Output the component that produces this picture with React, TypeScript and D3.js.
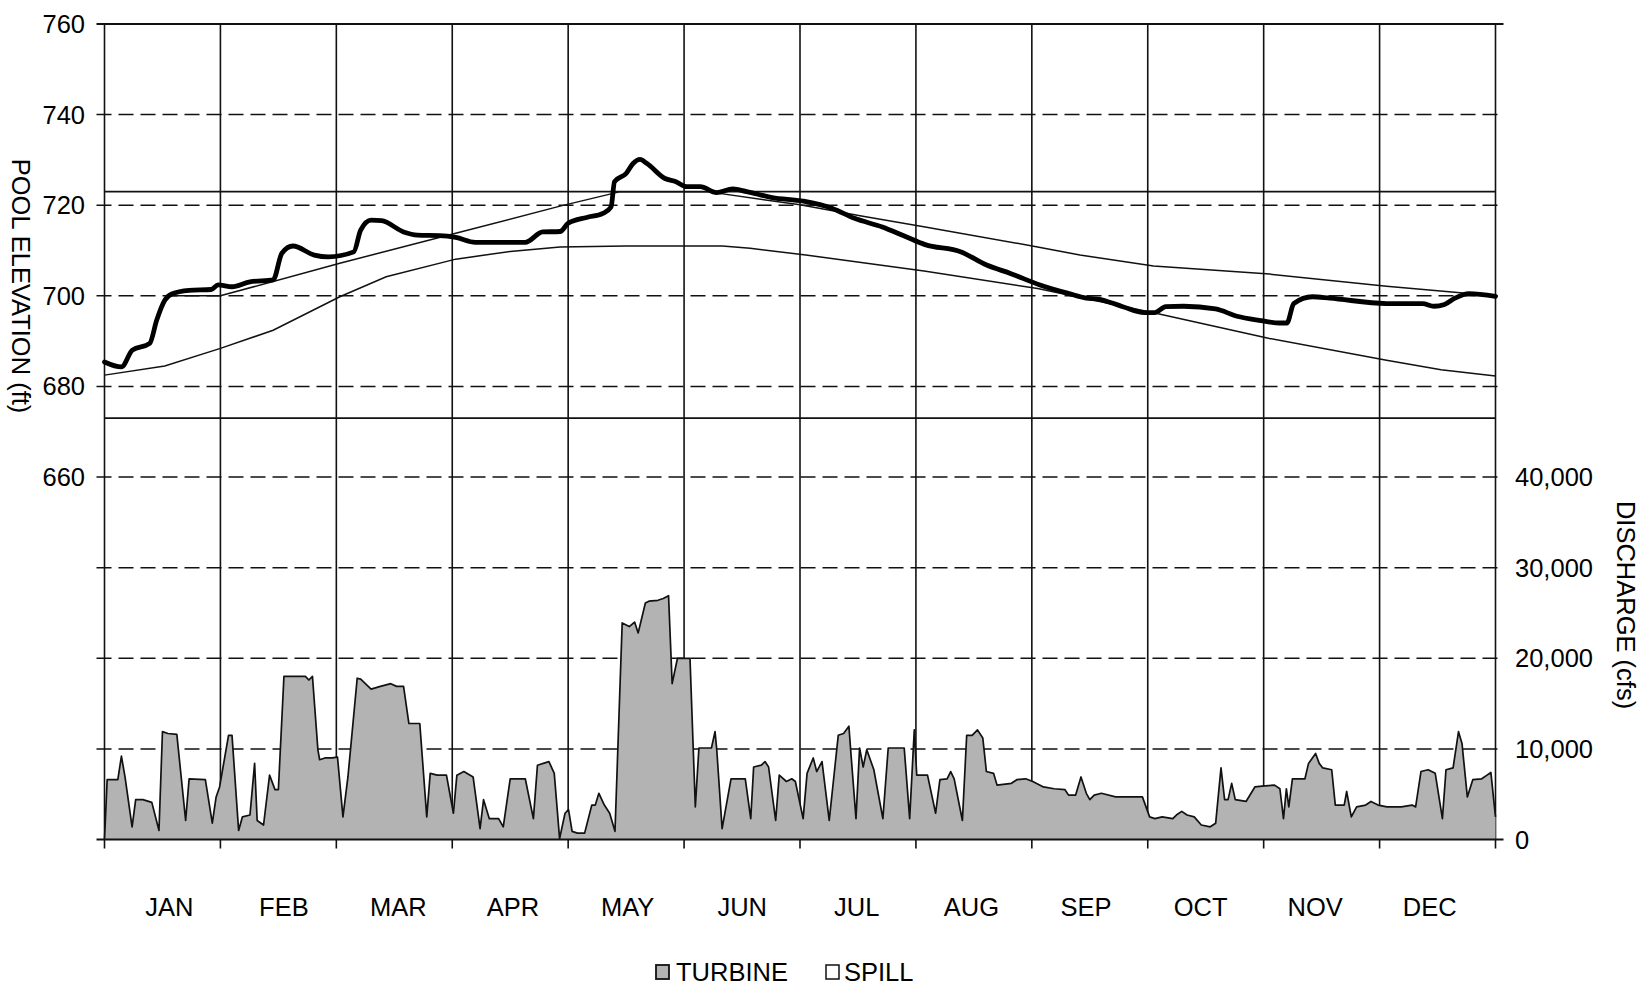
import React from "react";
import * as d3 from "d3";

// ---------- DATA ----------
const MONTHS = ["JAN", "FEB", "MAR", "APR", "MAY", "JUN", "JUL", "AUG", "SEP", "OCT", "NOV", "DEC"];
const ELEV_TICKS = [660, 680, 700, 720, 740, 760];
const FLOW_TICKS = [0, 10000, 20000, 30000, 40000];
const DASHED_ELEVS = [600, 620, 640, 660, 680, 700, 720, 740];
const LIMIT_ELEVS = [723, 673];

// [month position (0 = Jan 1, 12 = Dec 31), pool elevation ft]
const POOL: [number, number][] = [
  [0, 685.4], [0.146, 684.3], [0.24, 688.0], [0.39, 689.5], [0.45, 694.6], [0.52, 699.0], [0.58, 700.4],
  [0.73, 701.2], [0.92, 701.4], [0.98, 702.4], [1.1, 702.0], [1.255, 703.1], [1.455, 703.5], [1.53, 709.4],
  [1.625, 711.0], [1.81, 709.0], [1.93, 708.6], [2.15, 709.7], [2.21, 714.5], [2.3, 716.7], [2.39, 716.6],
  [2.58, 714.1], [2.7, 713.4], [2.89, 713.3], [3.03, 712.9], [3.2, 711.8], [3.63, 711.8], [3.78, 714.1],
  [3.93, 714.2], [4.0, 716.0], [4.16, 717.3], [4.3, 718.2], [4.37, 719.6], [4.4, 725.2], [4.5, 727.0],
  [4.56, 729.2], [4.62, 730.1], [4.68, 729.2], [4.835, 725.9], [4.93, 725.2], [5.02, 724.1], [5.14, 724.1],
  [5.28, 722.8], [5.42, 723.6], [5.54, 723.0], [5.76, 721.7], [6.03, 720.9], [6.28, 719.3], [6.47, 717.1],
  [6.71, 715.2], [6.9, 713.2], [7.08, 711.3], [7.39, 709.7], [7.61, 706.8], [7.82, 704.9], [8.07, 702.4],
  [8.32, 700.5], [8.47, 699.5], [8.57, 699.3], [8.785, 697.6], [8.97, 696.3], [9.06, 696.3], [9.155, 697.6],
  [9.31, 697.7], [9.585, 697.1], [9.77, 695.5], [9.96, 694.6], [10.14, 694.0], [10.2, 694.0], [10.26, 698.3],
  [10.42, 699.8], [10.57, 699.5], [11.06, 698.3], [11.37, 698.3], [11.47, 697.7], [11.56, 698.1],
  [11.65, 699.5], [11.77, 700.5], [12, 699.9],
];

const UPPER_GUIDE: [number, number][] = [
  [0.55, 700], [1.0, 700], [2.03, 707.2], [3.03, 713.8], [3.93, 719.8], [4.45, 723], [5.2, 723],
  [6.0, 720.1], [6.53, 717.6], [7.08, 715.2], [8.05, 710.8], [8.415, 709.0], [9.05, 706.6],
  [10.05, 704.8], [11.06, 702.1], [11.77, 700.5], [12, 700],
];

const LOWER_GUIDE: [number, number][] = [
  [0, 682.5], [0.52, 684.5], [1.0, 688.4], [1.455, 692.4], [2.03, 699.8], [2.43, 704.2], [3.03, 708.1],
  [3.5, 709.8], [3.93, 710.8], [4.5, 711], [5.33, 711], [5.57, 710.5], [6.05, 709], [7.07, 705.5],
  [8.05, 701.6], [9.06, 696.2], [10.05, 690.6], [11.06, 685.8], [11.53, 683.7], [12, 682.3],
];

// [month position, turbine discharge in thousand cfs]
const TURBINE_KCFS: [number, number][] = [
  [0, 0], [0.023, 6.6], [0.115, 6.6], [0.146, 9.2], [0.177, 6.9], [0.238, 1.4], [0.269, 4.4], [0.331, 4.4],
  [0.408, 4.1], [0.47, 1.0], [0.5, 11.9], [0.547, 11.7], [0.624, 11.6], [0.7, 2.1], [0.73, 6.7], [0.87, 6.6],
  [0.93, 1.8], [0.963, 4.7], [0.993, 5.8], [1.07, 11.5], [1.1, 11.5], [1.157, 1.0], [1.19, 2.5], [1.255, 2.7],
  [1.295, 8.4], [1.317, 2.1], [1.372, 1.6], [1.424, 7.1], [1.471, 5.5], [1.5, 5.5], [1.548, 18.0], [1.655, 18.0],
  [1.733, 18.0], [1.763, 17.6], [1.794, 18.0], [1.841, 9.9], [1.856, 8.8], [1.902, 9.0], [1.964, 9.0],
  [2.01, 9.1], [2.057, 2.5], [2.1, 6.9], [2.18, 17.8], [2.21, 17.7], [2.3, 16.6], [2.38, 16.9], [2.47, 17.2],
  [2.52, 16.9], [2.58, 16.9], [2.626, 12.8], [2.72, 12.8], [2.78, 2.5], [2.81, 7.3], [2.87, 7.1], [2.95, 7.1],
  [3.01, 2.9], [3.04, 7.1], [3.1, 7.5], [3.18, 6.9], [3.24, 1.2], [3.27, 4.4], [3.32, 2.3], [3.4, 2.3],
  [3.44, 1.4], [3.5, 6.7], [3.63, 6.7], [3.7, 2.3], [3.735, 8.2], [3.834, 8.6], [3.88, 7.3], [3.926, 0.1],
  [3.973, 2.9], [4.003, 3.3], [4.034, 0.9], [4.08, 0.7], [4.142, 0.7], [4.204, 3.8], [4.234, 3.8], [4.265, 5.1],
  [4.312, 3.8], [4.358, 2.9], [4.404, 0.9], [4.466, 23.9], [4.527, 23.5], [4.573, 24.0], [4.604, 22.8],
  [4.666, 26.1], [4.697, 26.3], [4.774, 26.4], [4.82, 26.6], [4.866, 26.9], [4.897, 17.2], [4.943, 20.0],
  [5.02, 20.0], [5.051, 20.0], [5.097, 3.6], [5.128, 10.1], [5.236, 10.1], [5.267, 11.9], [5.282, 9.9],
  [5.328, 1.2], [5.405, 6.7], [5.528, 6.7], [5.575, 2.3], [5.6, 8.0], [5.667, 8.2], [5.698, 8.6], [5.729, 8.0],
  [5.79, 2.1], [5.821, 7.1], [5.883, 6.4], [5.929, 6.7], [5.96, 6.4], [6.027, 2.3], [6.061, 7.3], [6.114, 9.0],
  [6.144, 7.5], [6.19, 8.6], [6.252, 2.1], [6.33, 11.5], [6.376, 11.7], [6.422, 12.5], [6.437, 9.9],
  [6.483, 2.3], [6.514, 10.1], [6.545, 8.0], [6.576, 9.9], [6.637, 7.7], [6.715, 2.3], [6.761, 10.1],
  [6.899, 10.1], [6.946, 2.3], [6.986, 12.1], [7.007, 7.1], [7.1, 7.1], [7.17, 2.9], [7.207, 6.6],
  [7.269, 6.7], [7.3, 7.5], [7.33, 6.7], [7.401, 2.1], [7.438, 11.5], [7.485, 11.5], [7.531, 12.1],
  [7.577, 11.2], [7.608, 7.5], [7.67, 7.3], [7.7, 6.0], [7.824, 6.2], [7.87, 6.6], [7.947, 6.7], [8.008, 6.4],
  [8.1, 5.8], [8.193, 5.6], [8.286, 5.5], [8.317, 4.9], [8.378, 4.9], [8.424, 6.9], [8.47, 5.1], [8.5, 4.4],
  [8.538, 4.9], [8.6, 5.1], [8.723, 4.7], [8.954, 4.7], [9.016, 2.5], [9.062, 2.3], [9.124, 2.5],
  [9.216, 2.3], [9.247, 2.7], [9.293, 3.1], [9.339, 2.7], [9.401, 2.5], [9.462, 1.6], [9.539, 1.4],
  [9.586, 1.8], [9.632, 7.9], [9.663, 4.4], [9.693, 4.4], [9.724, 6.2], [9.755, 4.4], [9.848, 4.2],
  [9.924, 5.8], [9.986, 5.9], [10.094, 6.0], [10.14, 5.6], [10.171, 2.3], [10.196, 5.6], [10.217, 3.6],
  [10.248, 6.7], [10.356, 6.7], [10.387, 8.4], [10.448, 9.5], [10.479, 8.4], [10.51, 7.9], [10.587, 7.7],
  [10.618, 3.8], [10.695, 3.8], [10.716, 5.3], [10.756, 2.5], [10.802, 3.6], [10.88, 3.8], [10.926, 4.2],
  [10.987, 3.8], [11.064, 3.6], [11.188, 3.6], [11.28, 3.8], [11.311, 3.6], [11.357, 7.5], [11.419, 7.7],
  [11.48, 7.3], [11.542, 2.3], [11.573, 7.7], [11.634, 7.9], [11.681, 11.9], [11.711, 10.6], [11.757, 4.7],
  [11.804, 6.6], [11.881, 6.7], [11.927, 7.1], [11.96, 7.4], [12, 2.5],
];

const LEGEND = [
  { label: "TURBINE", fill: "#b3b3b3" },
  { label: "SPILL", fill: "#ffffff" },
];

// ---------- LAYOUT ----------
const W = 1642;
const H = 988;
const FONT = "'Liberation Sans', Arial, Helvetica, sans-serif";
const FS = 25.5;

export default function App() {
  const x = d3.scaleLinear().domain([0, 12]).range([104.5, 1495.5]);
  const yElev = d3.scaleLinear().domain([580, 760]).range([839.5, 24]);
  const yFlow = d3.scaleLinear().domain([0, 90000]).range([839.5, 24]);
  const monthBand = d3.scaleBand<string>().domain(MONTHS).range([112, 1487]);
  const monthEdges = d3.range(0, 13);

  const area = d3
    .area<[number, number]>()
    .x((d) => x(d[0]))
    .y0(yFlow(0))
    .y1((d) => yFlow(d[1] * 1000));
  const flowLine = d3
    .line<[number, number]>()
    .x((d) => x(d[0]))
    .y((d) => yFlow(d[1] * 1000));
  const elevLine = d3
    .line<[number, number]>()
    .x((d) => x(d[0]))
    .y((d) => yElev(d[1]));
  const poolLine = d3
    .line<[number, number]>()
    .x((d) => x(d[0]))
    .y((d) => yElev(d[1]))
    .curve(d3.curveMonotoneX);

  const [x0, x1] = x.range();
  const fmt = d3.format(",");

  return (
    <svg
      width={W}
      height={H}
      viewBox={`0 0 ${W} ${H}`}
      style={{ position: "absolute", left: 0, top: 0, background: "#fff" }}
      fontFamily={FONT}
    >
      <rect x={0} y={0} width={W} height={H} fill="#fff" />

      {/* dashed horizontal gridlines */}
      {DASHED_ELEVS.map((v) => (
        <line
          key={"g" + v}
          x1={x0 - 8}
          x2={x1 + 8}
          y1={yElev(v)}
          y2={yElev(v)}
          stroke="#111"
          strokeWidth={1.5}
          strokeDasharray="15 7"
        />
      ))}

      {/* vertical month lines */}
      {monthEdges.map((m) => (
        <line
          key={"v" + m}
          x1={x(m)}
          x2={x(m)}
          y1={yElev(760)}
          y2={yElev(580) + 9}
          stroke="#111"
          strokeWidth={1.6}
        />
      ))}

      {/* turbine discharge */}
      <path d={area(TURBINE_KCFS) || ""} fill={LEGEND[0].fill} />
      <path d={flowLine(TURBINE_KCFS) || ""} fill="none" stroke="#111" strokeWidth={1.7} strokeLinejoin="round" />

      {/* top and bottom frame lines */}
      <line x1={x0 - 8} x2={x1 + 8} y1={yElev(760)} y2={yElev(760)} stroke="#111" strokeWidth={2.2} />
      <line x1={x0 - 8} x2={x1 + 8} y1={yElev(580)} y2={yElev(580)} stroke="#111" strokeWidth={1.8} />

      {/* operating limit lines */}
      {LIMIT_ELEVS.map((v) => (
        <line key={"l" + v} x1={x0} x2={x1} y1={yElev(v)} y2={yElev(v)} stroke="#111" strokeWidth={1.9} />
      ))}

      {/* guide curves */}
      <path d={elevLine(UPPER_GUIDE) || ""} fill="none" stroke="#111" strokeWidth={1.5} />
      <path d={elevLine(LOWER_GUIDE) || ""} fill="none" stroke="#111" strokeWidth={1.5} />

      {/* pool elevation */}
      <path d={poolLine(POOL) || ""} fill="none" stroke="#000" strokeWidth={4.8} strokeLinejoin="round" strokeLinecap="round" />

      {/* left tick labels */}
      {ELEV_TICKS.map((v) => (
        <text key={"lt" + v} x={85} y={yElev(v)} fontSize={FS} textAnchor="end" dominantBaseline="central" fill="#000">
          {v}
        </text>
      ))}

      {/* right tick labels */}
      {FLOW_TICKS.map((v) => (
        <text key={"rt" + v} x={1515} y={yFlow(v)} fontSize={FS} textAnchor="start" dominantBaseline="central" fill="#000">
          {fmt(v)}
        </text>
      ))}

      {/* month labels */}
      {MONTHS.map((m) => (
        <text
          key={m}
          x={(monthBand(m) as number) + monthBand.bandwidth() / 2}
          y={907}
          fontSize={FS}
          textAnchor="middle"
          dominantBaseline="central"
          fill="#000"
        >
          {m}
        </text>
      ))}

      {/* axis titles */}
      <text
        transform={`translate(21, 286) rotate(90)`}
        fontSize={FS}
        textAnchor="middle"
        dominantBaseline="central"
        fill="#000"
      >
        POOL ELEVATION (ft)
      </text>
      <text
        transform={`translate(1626, 605) rotate(90)`}
        fontSize={FS}
        textAnchor="middle"
        dominantBaseline="central"
        fill="#000"
      >
        DISCHARGE (cfs)
      </text>

      {/* legend */}
      <g>
        <rect x={656} y={965} width={13} height={14} fill={LEGEND[0].fill} stroke="#111" strokeWidth={1.8} />
        <text x={676} y={972} fontSize={FS} dominantBaseline="central" fill="#000">
          {LEGEND[0].label}
        </text>
        <rect x={826} y={965} width={13} height={14} fill={LEGEND[1].fill} stroke="#111" strokeWidth={1.5} />
        <text x={844} y={972} fontSize={FS} dominantBaseline="central" fill="#000">
          {LEGEND[1].label}
        </text>
      </g>
    </svg>
  );
}
